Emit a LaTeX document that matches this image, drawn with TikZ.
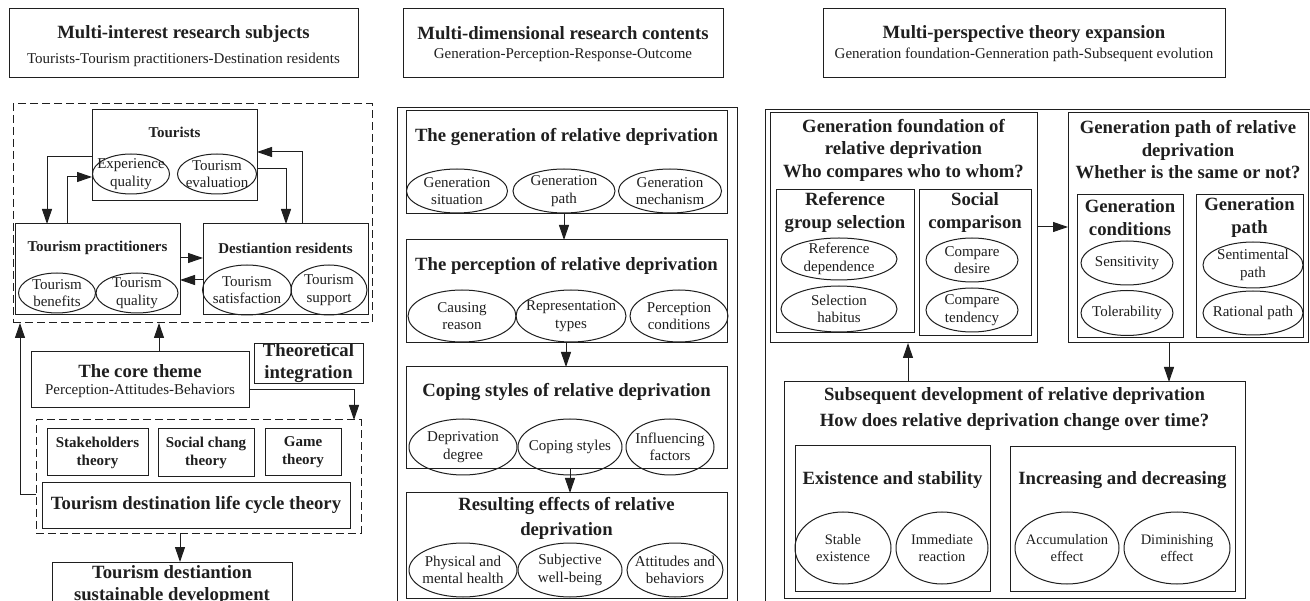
\documentclass[tikz,border=0pt]{standalone}
\usepackage{fontspec}
\setmainfont{Liberation Serif}
\usetikzlibrary{arrows.meta,shapes.geometric}
\newcommand{\mybox}[6][bx]{\node[#1,minimum width={#5-#3},minimum height={#6-#4},anchor=north west] (#2) at (#3,#4) {};}
\newcommand{\myell}[7][et]{\node[ellsty,minimum width=#5,minimum height=#6,label={[#1]center:{#7}}] (#2) at (#3,#4) {};}
\begin{document}
\begin{tikzpicture}[x=1pt,y=-1pt,line width=1pt,
 every node/.append style={text=black!88},
 bx/.style={draw=black!88,rectangle,inner sep=0pt,outer sep=0pt},
 dbx/.style={bx,dash pattern=on 8pt off 4pt},
 ellsty/.style={draw=black!88,ellipse,inner sep=0pt,outer sep=0pt},
 hb/.style={font=\fontsize{18.7}{22.5}\selectfont\bfseries,align=center,inner sep=0pt},
 sb/.style={font=\fontsize{15}{18}\selectfont\bfseries,align=center,inner sep=0pt},
 rt/.style={font=\fontsize{15}{17.5}\selectfont,align=center,inner sep=0pt},
 et/.style={font=\fontsize{15}{17.5}\selectfont,align=center,inner sep=0pt},
 ets/.style={font=\fontsize{14.5}{17}\selectfont,align=center,inner sep=0pt},
 arr/.style={draw=black!88,-{Triangle[length=15pt,width=10pt]}},
]
\useasboundingbox (0,0) rectangle (1310,601);
\clip (0,0) rectangle (1310,601);
\fill[white] (0,0) rectangle (1310,601);

% ================= LEFT =================
\mybox{hdrL}{9}{9}{358}{78}
\node[hb] (hdrLt) at (183.5,34) {Multi-interest research subjects};
\node[rt] (hdrLs) at (183.5,60) {Tourists-Tourism practitioners-Destination residents};

\mybox[dbx]{dashL}{13}{104}{372}{323}
\mybox{tour}{92}{110}{257}{201}
\node[sb] (tourt) at (174.5,132) {Tourists};
\myell{e1}{131}{174}{77}{40}{Experience\\quality}
\myell{e2}{217}{174}{79}{40}{Tourism\\evaluation}

\mybox{prac}{15}{224}{180}{315}
\node[sb] (pract) at (97.5,248) {Tourism practitioners};
\myell{e3}{57}{293}{77}{40}{Tourism\\benefits}
\myell{e4}{137}{293}{82}{40}{Tourism\\quality}

\mybox{resd}{203}{224}{368}{315}
\node[sb] (resdt) at (285.5,248) {Destiantion residents};
\myell{e5}{247}{290}{89}{50}{Tourism\\satisfaction}
\myell{e6}{329}{290}{76}{50}{Tourism\\support}

\coordinate (k1) at (47,157);
\draw[arr] (tour.west |- k1) -| (prac.north -| k1);
\coordinate (k2) at (67,177);
\draw[arr] (prac.north -| k2) |- (tour.west |- k2);
\coordinate (k3) at (286,169);
\draw[arr] (tour.east |- k3) -| (resd.north -| k3);
\coordinate (k4) at (302,152);
\draw[arr] (resd.north -| k4) |- (tour.east |- k4);
\coordinate (k5) at (0,258);
\draw[arr] (prac.east |- k5) -- (resd.west |- k5);
\coordinate (k6) at (0,280);
\draw[arr] (resd.west |- k6) -- (prac.east |- k6);

\mybox{core}{31}{352}{249}{408}
\node[hb] (coret) at (140,371) {The core theme};
\node[rt] (cores) at (140,391) {Perception-Attitudes-Behaviors};
\mybox{theo}{254}{344}{363}{384}
\node[hb] (theot) at (308.5,363) {Theoretical\\integration};

\mybox[dbx]{dashT}{36}{420}{361}{533}
\mybox{stk}{47}{429}{148}{476}
\node[sb] (stkt) at (97.5,452.5) {Stakeholders\\theory};
\mybox{soc}{158}{429}{254}{477}
\node[sb] (soct) at (206,453) {Social chang\\theory};
\mybox{game}{265}{429}{341}{476}
\node[sb] (gamet) at (303,452.5) {Game\\theory};
\mybox{life}{42}{483}{350}{528}
\node[hb] (lifet) at (196,505) {Tourism destination life cycle theory};

\coordinate (k7) at (159,0);
\draw[arr] (core.north -| k7) -- (dashL.south -| k7);
\coordinate (k8) at (354,390);
\draw[arr] (core.east |- k8) -| (dashT.north -| k8);
\coordinate (k9) at (20,495);
\draw[arr] (dashT.west |- k9) -| (dashL.south -| k9);
\coordinate (k10) at (180,0);
\mybox{fin}{52}{562}{292}{640}
\draw[arr] (dashT.south -| k10) -- (fin.north -| k10);
\node[hb] (fint) at (172,585) {Tourism destiantion\\sustainable development};

% ================= MIDDLE =================
\mybox{hdrM}{403}{9}{723}{78}
\node[hb] (hdrMt) at (563,33) {Multi-dimensional research contents};
\node[rt] (hdrMs) at (563,55) {Generation-Perception-Response-Outcome};

\mybox{outM}{397}{108}{737}{640}

\mybox{gen}{406}{111}{727}{214}
\node[hb] (gent) at (566.5,137) {The generation of relative deprivation};
\myell{g1}{457}{191}{101}{44}{Generation\\situation}
\myell{g2}{564}{191}{102}{44}{Generation\\path}
\myell{g3}{670}{191}{103}{44}{Generation\\mechanism}

\mybox{perc}{406}{240}{727}{343}
\node[hb] (perct) at (566.5,266) {The perception of relative deprivation};
\myell{p1}{462}{316}{108}{52}{Causing\\reason}
\myell{p2}{571}{316}{110}{52}{Representation\\types}
\myell{p3}{679}{316}{98}{52}{Perception\\conditions}

\mybox{cope}{406}{367}{727}{469}
\node[hb] (copet) at (566.5,392) {Coping styles of relative deprivation};
\myell{c1}{463}{447}{108}{56}{Deprivation\\degree}
\myell{c2}{570}{447}{104}{56}{Coping styles}
\myell{c3}{670}{447}{88}{56}{Influencing\\factors}

\mybox{rslt}{406}{493}{727}{598}
\node[hb] (rsltt) at (566.5,518.5) {Resulting effects of relative\\[2.5pt]deprivation};
\myell{r1}{463}{570}{108}{54}{Physical and\\mental health}
\myell{r2}{570}{570}{104}{54}{Subjective\\well-being}
\myell{r3}{675}{570}{96}{54}{Attitudes and\\behaviors}

\coordinate (m1) at (564,0);
\draw[arr] (gen.south -| m1) -- (perc.north -| m1);
\coordinate (m2) at (566,0);
\draw[arr] (perc.south -| m2) -- (cope.north -| m2);
\coordinate (m3) at (570,0);
\draw[arr] (cope.south -| m3) -- (rslt.north -| m3);

% ================= RIGHT =================
\mybox{hdrR}{823}{9}{1225}{78}
\node[hb] (hdrRt) at (1024,34) {Multi-perspective theory expansion};
\node[rt] (hdrRs) at (1024,55) {Generation foundation-Genneration path-Subsequent evolution};

\mybox{outR}{765}{110}{1330}{640}

\mybox{gf}{770}{113}{1037}{343}
\node[hb] (gft) at (903.5,150) {Generation foundation of\\relative deprivation\\Who compares who to whom?};
\mybox{rgs}{776}{190}{914}{333}
\node[hb] (rgst) at (845,212.5) {Reference\\group selection};
\myell{f1}{839}{259}{116}{42}{Reference\\dependence}
\myell{f2}{839}{309}{116}{46}{Selection\\habitus}
\mybox{scm}{919}{190}{1031}{336}
\node[hb] (scmt) at (975,212.5) {Social\\comparison};
\myell{f3}{972}{260}{92}{44}{Compare\\desire}
\myell{f4}{972}{310}{92}{44}{Compare\\tendency}

\mybox{gp}{1068}{113}{1308}{343}
\node[hb] (gpt) at (1188,150) {Generation path of relative\\deprivation\\Whether is the same or not?};
\mybox{gc}{1077}{195}{1183}{338}
\node[hb] (gct) at (1130,217.5) {Generation\\conditions};
\myell{q1}{1127}{263}{92}{44}{Sensitivity}
\myell{q2}{1127}{313}{92}{45}{Tolerability}
\mybox{gpa}{1196}{195}{1303}{338}
\node[hb] (gpat) at (1249.5,217.5) {Generation\\path};
\myell{q3}{1253}{265}{100}{46}{Sentimental\\path}
\myell{q4}{1253}{313}{100}{44}{Rational path}

\coordinate (n1) at (0,227);
\draw[arr] (gf.east |- n1) -- (gp.west |- n1);

\mybox{sub}{784}{382}{1245}{598}
\node[hb] (subt) at (1014.5,409) {Subsequent development of relative deprivation\\[4pt]How does relative deprivation change over time?};
\mybox{exs}{795}{446}{990}{591}
\node[hb] (exst) at (892.5,480) {Existence and stability};
\myell[ets]{s1}{843}{548}{96}{72}{Stable\\existence}
\myell[ets]{s2}{942}{548}{92}{72}{Immediate\\reaction}
\mybox{inc}{1010}{447}{1235}{591}
\node[hb] (inct) at (1122.5,480) {Increasing and decreasing};
\myell[ets]{s3}{1067}{548}{104}{72}{Accumulation\\effect}
\myell[ets]{s4}{1177}{548}{106}{72}{Diminishing\\effect}

\coordinate (n2) at (1169,0);
\draw[arr] (gp.south -| n2) -- (sub.north -| n2);
\coordinate (n3) at (908,0);
\draw[arr] (sub.north -| n3) -- (gf.south -| n3);
\end{tikzpicture}
\end{document}
